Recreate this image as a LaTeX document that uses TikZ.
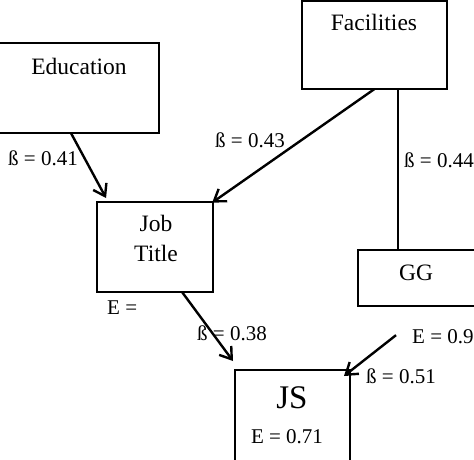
\documentclass[tikz,border=0pt]{standalone}
\usepackage{fontspec}
\setmainfont{Liberation Serif}
\usetikzlibrary{arrows.meta,calc}
\begin{document}
\begin{tikzpicture}[x=1pt,y=-1pt,
  box/.style={draw, line width=2pt, inner sep=0pt, outer sep=0pt},
  big/.style={font=\fontsize{23.5}{30}\selectfont, inner sep=0pt},
  lab/.style={font=\fontsize{21}{25}\selectfont, inner sep=0pt},
  conn/.style={line width=2.4pt},
  arr/.style={conn, -{Straight Barb[length=11pt,width=15pt]}}]
\useasboundingbox (0,0) rectangle (474,459);
\clip (0,0) rectangle (474,459);
% boxes
\node[box, minimum width=161pt, minimum height=90pt] (edu) at (78.5,88) {};
\node[box, minimum width=145pt, minimum height=88.5pt] (fac) at (374.5,44.75) {};
\node[box, minimum width=116pt, minimum height=90pt] (job) at (155,247) {};
\node[box, minimum width=116.5pt, minimum height=56pt] (gg) at (416.25,278) {};
\node[box, minimum width=115pt, minimum height=105pt] (js) at (292.5,422.5) {};
% box texts
\node[big, anchor=base] (eduT) at (79,74) {Education};
\node[big, anchor=base] (facT) at (374,30) {Facilities};
\node[big, anchor=base] (jobT1) at (156,231) {Job};
\node[big, anchor=base] (jobT2) at (156,261) {Title};
\node[big, anchor=base] (ggT) at (416,280) {GG};
\node[font=\fontsize{33}{36}\selectfont, inner sep=0pt, anchor=base] (jsT) at (292,408) {JS};
\node[lab, anchor=base] (jsE) at (287,443) {E = 0.71};
% labels
\node[lab, anchor=base west] (b41) at (8,165) {ß = 0.41};
\node[lab, anchor=base west] (b43) at (215,147) {ß = 0.43};
\node[lab, anchor=base west] (b44) at (404,167) {ß = 0.44};
\node[lab, anchor=base west] (ejob) at (107,314) {E =};
\node[lab, anchor=base west] (b38) at (197,340) {ß = 0.38};
\node[lab, anchor=base west] (e09) at (412,343) {E = 0.9};
\node[lab, anchor=base west] (b51) at (366,383) {ß = 0.51};
% connector end points
\coordinate (eduOut) at ($(edu.south west)!0.453!(edu.south east)$);
\coordinate (jobIn) at ($(job.north west)!0.078!(job.north east)+(0,-4)$);
\coordinate (facOut2) at ($(fac.south west)!0.662!(fac.south east)$);
\coordinate (jobOut) at ($(job.south west)!0.733!(job.south east)$);
\coordinate (jsIn1) at ($(js.north west)+(-2,-9)$);
\coordinate (eStart) at ($(e09.west)+(-16,-1)$);
\coordinate (jsIn2) at ($(js.north east)+(-6,6)$);
% connectors
\draw[arr] (eduOut) -- (jobIn);
\draw[arr, shorten >=-1pt] (fac.south) -- (job.north east);
\draw[conn] (facOut2) -- (facOut2 |- gg.north);
\draw[arr] (jobOut) -- (jsIn1);
\draw[arr] (eStart) -- (jsIn2);
\end{tikzpicture}
\end{document}
